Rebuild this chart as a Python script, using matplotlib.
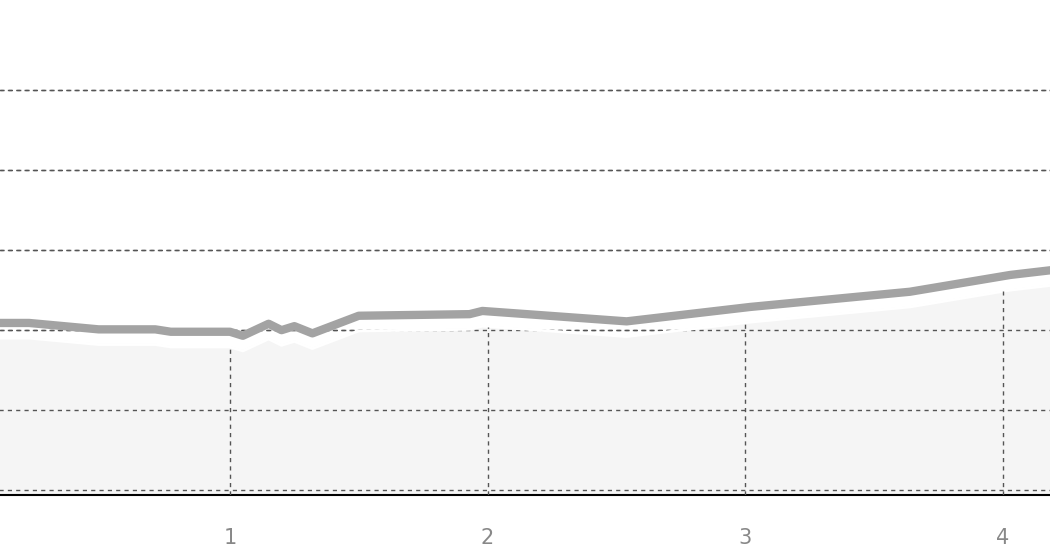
import numpy as np
import matplotlib.pyplot as plt

# distance (km) and elevation (grid units)
dist_km = [0.10, 0.22, 0.49, 0.71, 0.77, 1.00, 1.05, 1.15, 1.20, 1.25, 1.32, 1.50,
           1.93, 1.98, 2.54, 3.02, 3.64, 4.03, 4.19]
elev = [2.09, 2.09, 2.01, 2.01, 1.98, 1.98, 1.93, 2.08, 2.00, 2.05, 1.96, 2.18,
        2.20, 2.24, 2.11, 2.29, 2.48, 2.69, 2.75]
shade_drop = 0.19
tick_km = [1, 2, 3, 4]
tick_labels = ["1", "2", "3", "4"]
grid_levels = [0, 1, 2, 3, 4, 5]

x = np.array(dist_km)
y = np.array(elev)

fig = plt.figure(figsize=(10.5, 5.6), dpi=100)
ax = fig.add_axes([0, 0.116, 1, 0.884])

for g in grid_levels:
    ax.axhline(g, color="#555555", lw=1, ls=(0, (3, 3)), zorder=1)

ax.fill_between(x, -0.06, y - shade_drop, color="#f5f5f5", zorder=2)
ax.plot(x, y - shade_drop, color="white", lw=2, zorder=3)
for t in tick_km:
    top = np.interp(t, x, y) - shade_drop
    ax.vlines(t, -0.06, top, color="#555555", lw=1, ls=(0, (3, 3)), zorder=3)
for g in grid_levels:
    ax.hlines(g, x[0], x[-1], color="#555555", lw=1, ls=(0, (3, 3)), zorder=2.5)
ax.plot(x, y, color="#a3a3a3", lw=6, solid_capstyle="butt", zorder=4)

ax.set_xticks(tick_km)
ax.set_xticklabels(tick_labels)
ax.set_yticks([])
ax.set_xlim(0.107, 4.184)
ax.set_ylim(-0.06, 6.125)
ax.tick_params(axis="x", length=0, labelsize=15, labelcolor="#888888", pad=24)
ax.text(0, -0.06, "0 km", transform=ax.get_xaxis_transform(), ha="center", va="top",
        fontsize=15, color="#888888", clip_on=False)
for s in ("top", "right", "left"):
    ax.spines[s].set_visible(False)
ax.spines["bottom"].set_color("black")
ax.spines["bottom"].set_linewidth(1.5)

fig.savefig("out.png", dpi=100)
